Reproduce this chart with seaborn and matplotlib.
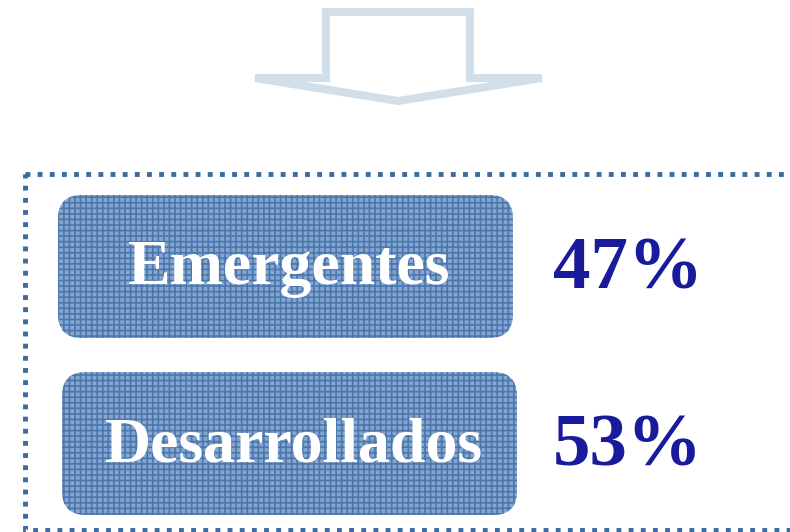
import matplotlib
matplotlib.use("Agg")
import matplotlib.pyplot as plt
import seaborn as sns
from matplotlib.patches import FancyBboxPatch, Polygon, Rectangle

# Data
categories = ["Emergentes", "Desarrollados"]
shares = [47, 53]
labels = [f"{v}%" for v in shares]

sns.set_theme(style="white")
plt.rcParams["font.family"] = ["Liberation Serif", "DejaVu Serif"]
plt.rcParams["hatch.linewidth"] = 1.2

W, H = 790, 532
fig = plt.figure(figsize=(W / 100, H / 100), dpi=100)
ax = fig.add_axes([0, 0, 1, 1])
ax.set_xlim(0, W)
ax.set_ylim(H, 0)
ax.axis("off")

# Arrow outline at top
arrow = Polygon([(326, 12), (470, 12), (470, 78), (542, 78), (398, 101),
                 (255, 78), (326, 78)], closed=True, facecolor="none",
                edgecolor="#d2dfe8", linewidth=5.8, joinstyle="miter")
ax.add_patch(arrow)

# Dotted frame
frame = Rectangle((25, 174), 800, 356, facecolor="none", edgecolor="#3b6aa0",
                  linewidth=3.5, linestyle=(0, (1, 1.5)), capstyle="butt")
ax.add_patch(frame)

# Boxes
boxes = [(58, 195, 455, 143), (62, 372, 455, 143)]
for (x, y, w, h), cat, lab in zip(boxes, categories, labels):
    r = 24
    base = FancyBboxPatch((x + r, y + r), w - 2 * r, h - 2 * r,
                          boxstyle=f"round,pad={r}", facecolor="#86a5cf",
                          edgecolor="none", linewidth=0)
    ax.add_patch(base)
    hatch = FancyBboxPatch((x + r, y + r), w - 2 * r, h - 2 * r,
                           boxstyle=f"round,pad={r}", facecolor="none",
                           edgecolor="#4a77ad", linewidth=0, hatch="+++")
    ax.add_patch(hatch)
    ax.text(x + w / 2 + 4, y + h / 2 + 3, cat, color="white", fontsize=46,
            fontweight="bold", ha="center", va="center")
    ax.text(628, y + h / 2 + 4, lab, color="#1a1a9c", fontsize=54,
            fontweight="bold", ha="center", va="center")

fig.savefig("out.png", dpi=100)
